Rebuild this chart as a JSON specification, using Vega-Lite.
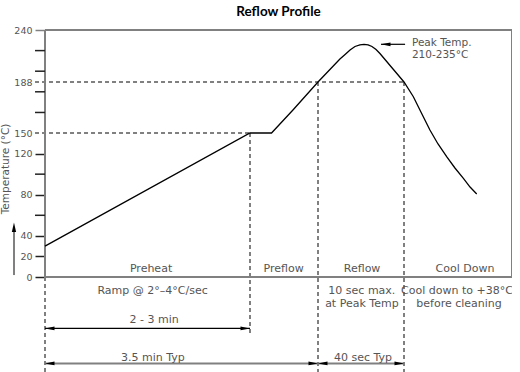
{
  "$schema": "https://vega.github.io/schema/vega-lite/v6.json",
  "autosize": {"type": "none"},
  "padding": {"left": 45, "top": 30, "right": 0, "bottom": 0},
  "width": 467,
  "height": 342,
  "background": "white",
  "config": {
    "view": {"stroke": null},
    "axis": {"labelOverlap": false, "labelFlush": false, "labelBound": false, "grid": false, "domain": false},
    "axisY": {
      "tickSize": 10, "tickWidth": 1.5,
      "labelFont": "DejaVu Sans", "labelFontSize": 9.5, "labelColor": "#555", "labelPadding": 3,
      "titleFont": "DejaVu Sans", "titleFontSize": 10.5, "titleFontWeight": "normal", "titleColor": "#555",
      "titleAngle": 270, "titleX": -39.5, "titleY": 138.5, "titleAlign": "center", "titleBaseline": "middle"
    }
  },
  "title": {"text": "Reflow Profile", "font": "Lato", "fontSize": 13.5, "fontWeight": "bold", "color": "#000", "offset": 6.5, "anchor": "middle"},
  "datasets": {
    "curve": [
      {"t": 0, "T": 30}, {"t": 150, "T": 150}, {"t": 169, "T": 150}, {"t": 187.9, "T": 167.1},
      {"t": 210, "T": 188}, {"t": 220.2, "T": 211}, {"t": 222.6, "T": 215.5}, {"t": 224.9, "T": 220},
      {"t": 227.2, "T": 223.5}, {"t": 229.5, "T": 225.2}, {"t": 231.4, "T": 225.7}, {"t": 233.3, "T": 225.2},
      {"t": 235.1, "T": 223.5}, {"t": 237.0, "T": 220.5}, {"t": 238.8, "T": 216.5}, {"t": 250, "T": 188},
      {"t": 255.2, "T": 177}, {"t": 259.4, "T": 165.6}, {"t": 264.4, "T": 152.2}, {"t": 268.9, "T": 134},
      {"t": 273.7, "T": 117}, {"t": 278.3, "T": 106}, {"t": 283, "T": 96}, {"t": 286.7, "T": 87.5},
      {"t": 290.4, "T": 80.7}
    ],
    "frame": [
      {"t": 0, "t2": 0, "T": 0, "T2": 240},
      {"t": 0, "t2": 310, "T": 0, "T2": 0},
      {"t": 0, "t2": 310, "T": 240, "T2": 240},
      {"t": 310, "t2": 310, "T": 0, "T2": 240}
    ],
    "minorTicks": [
      {"t": -7.3, "t2": 0, "T": 60, "T2": 60},
      {"t": -7.3, "t2": 0, "T": 100, "T2": 100},
      {"t": -7.3, "t2": 0, "T": 165.3, "T2": 165.3},
      {"t": -7.3, "t2": 0, "T": 180.7, "T2": 180.7},
      {"t": -7.3, "t2": 0, "T": 198.8, "T2": 198.8},
      {"t": -7.3, "t2": 0, "T": 219.4, "T2": 219.4}
    ],
    "dashed": [
      {"t": -7.3, "t2": 150, "T": 150, "T2": 150},
      {"t": -7.3, "t2": 250, "T": 188, "T2": 188},
      {"t": 150, "t2": 150, "T": 150, "T2": -56.4},
      {"t": 0, "t2": 0, "T": 0, "T2": -92.4},
      {"t": 210, "t2": 210, "T": 188, "T2": -92.4},
      {"t": 250, "t2": 250, "T": 188, "T2": -92.4}
    ],
    "dimThin": [
      {"t": 0, "t2": 150, "T": -50, "T2": -50},
      {"t": 239.3, "t2": 250.6, "T": 225.7, "T2": 225.7}
    ],
    "dimThick": [
      {"t": 0, "t2": 210, "T": -84.1, "T2": -84.1},
      {"t": 210, "t2": 250, "T": -84.1, "T2": -84.1},
      {"t": -22.7, "t2": -22.7, "T": 1.9, "T2": 48.6}
    ],
    "headsLeft": [
      {"t": 0, "T": -50}, {"t": 0, "T": -84.1}, {"t": 210, "T": -84.1}, {"t": 239.3, "T": 225.7}
    ],
    "headsRight": [
      {"t": 150, "T": -50}, {"t": 210, "T": -84.1}, {"t": 250, "T": -84.1}
    ],
    "headsUp": [
      {"t": -22.7, "T": 53}
    ],
    "textCenter": [
      {"t": 77.6, "T": 4.6, "label": "Preheat"},
      {"t": 179.7, "T": 4.6, "label": "Preflow"},
      {"t": 230.5, "T": 4.6, "label": "Reflow"},
      {"t": 283.9, "T": 4.6, "label": "Cool Down"},
      {"t": 78.7, "T": -16.8, "label": "Ramp @ 2°–4°C/sec"},
      {"t": 230.4, "T": -16.8, "label": "10 sec max."},
      {"t": 230.4, "T": -29.5, "label": "at Peak Temp"},
      {"t": 279.4, "T": -16.8, "label": "Cool down to +38°C"},
      {"t": 280.6, "T": -29.5, "label": "before cleaning"},
      {"t": 79.8, "T": -45, "label": "2 - 3 min"},
      {"t": 79, "T": -81.5, "label": "3.5 min Typ"},
      {"t": 230.9, "T": -81.5, "label": "40 sec Typ"}
    ],
    "textLeft": [
      {"t": 254.4, "T": 224, "label": "Peak Temp."},
      {"t": 254.4, "T": 212.3, "label": "210-235°C"}
    ]
  },
  "layer": [
    {
      "data": {"name": "frame"},
      "mark": {"type": "rule", "color": "#808080", "strokeWidth": 2},
      "encoding": {
        "x": {"field": "t", "type": "quantitative", "axis": null,
              "scale": {"domain": [0, 150, 210, 250, 310], "range": [0, 205, 273, 359, 467], "nice": false, "zero": false}},
        "x2": {"field": "t2"},
        "y": {"field": "T", "type": "quantitative",
              "scale": {"domain": [-92.4, 0, 120, 150, 188, 240], "range": [342, 247, 123.6, 103, 52, 0], "nice": false, "zero": false},
              "axis": {
                "title": "Temperature (°C)",
                "labelOverlap": false,
                "values": [0, 20, 40, 80, 120, 150, 188, 240],
                "tickColor": {"condition": {"test": "datum.value == 240", "value": "#808080"}, "value": "#222"},
                "tickOpacity": {"condition": {"test": "datum.value == 150 || datum.value == 188", "value": 0}, "value": 1}
              }},
        "y2": {"field": "T2"}
      }
    },
    {
      "data": {"name": "minorTicks"},
      "mark": {"type": "rule", "color": "#222", "strokeWidth": 1.5},
      "encoding": {
        "x": {"field": "t", "type": "quantitative", "axis": null},
        "x2": {"field": "t2"},
        "y": {"field": "T", "type": "quantitative"},
        "y2": {"field": "T2"}
      }
    },
    {
      "data": {"name": "dashed"},
      "mark": {"type": "rule", "color": "#808080", "strokeWidth": 2, "strokeDash": [4, 3]},
      "encoding": {
        "x": {"field": "t", "type": "quantitative", "axis": null},
        "x2": {"field": "t2"},
        "y": {"field": "T", "type": "quantitative"},
        "y2": {"field": "T2"}
      }
    },
    {
      "data": {"name": "dimThick"},
      "mark": {"type": "rule", "color": "#808080", "strokeWidth": 2},
      "encoding": {
        "x": {"field": "t", "type": "quantitative", "axis": null},
        "x2": {"field": "t2"},
        "y": {"field": "T", "type": "quantitative"},
        "y2": {"field": "T2"}
      }
    },
    {
      "data": {"name": "dimThin"},
      "mark": {"type": "rule", "color": "#000", "strokeWidth": 1.2},
      "encoding": {
        "x": {"field": "t", "type": "quantitative", "axis": null},
        "x2": {"field": "t2"},
        "y": {"field": "T", "type": "quantitative"},
        "y2": {"field": "T2"}
      }
    },
    {
      "data": {"name": "curve"},
      "mark": {"type": "line", "color": "#000", "strokeWidth": 1.3},
      "encoding": {
        "x": {"field": "t", "type": "quantitative", "axis": null},
        "y": {"field": "T", "type": "quantitative"}
      }
    },
    {
      "data": {"name": "headsLeft"},
      "mark": {"type": "point", "shape": "M0,0L2,-0.4L2,0.4Z", "filled": true, "size": 90, "color": "#000", "opacity": 1, "strokeWidth": 0},
      "encoding": {
        "x": {"field": "t", "type": "quantitative", "axis": null},
        "y": {"field": "T", "type": "quantitative"}
      }
    },
    {
      "data": {"name": "headsRight"},
      "mark": {"type": "point", "shape": "M0,0L-2,-0.4L-2,0.4Z", "filled": true, "size": 90, "color": "#000", "opacity": 1, "strokeWidth": 0},
      "encoding": {
        "x": {"field": "t", "type": "quantitative", "axis": null},
        "y": {"field": "T", "type": "quantitative"}
      }
    },
    {
      "data": {"name": "headsUp"},
      "mark": {"type": "point", "shape": "M0,0L-0.45,2L0.45,2Z", "filled": true, "size": 90, "color": "#000", "opacity": 1, "strokeWidth": 0},
      "encoding": {
        "x": {"field": "t", "type": "quantitative", "axis": null},
        "y": {"field": "T", "type": "quantitative"}
      }
    },
    {
      "data": {"name": "textCenter"},
      "mark": {"type": "text", "font": "DejaVu Sans", "fontSize": 11, "color": "#555", "align": "center", "baseline": "alphabetic"},
      "encoding": {
        "x": {"field": "t", "type": "quantitative", "axis": null},
        "y": {"field": "T", "type": "quantitative"},
        "text": {"field": "label"}
      }
    },
    {
      "data": {"name": "textLeft"},
      "mark": {"type": "text", "font": "DejaVu Sans", "fontSize": 10.5, "color": "#555", "align": "left", "baseline": "alphabetic"},
      "encoding": {
        "x": {"field": "t", "type": "quantitative", "axis": null},
        "y": {"field": "T", "type": "quantitative"},
        "text": {"field": "label"}
      }
    }
  ]
}
